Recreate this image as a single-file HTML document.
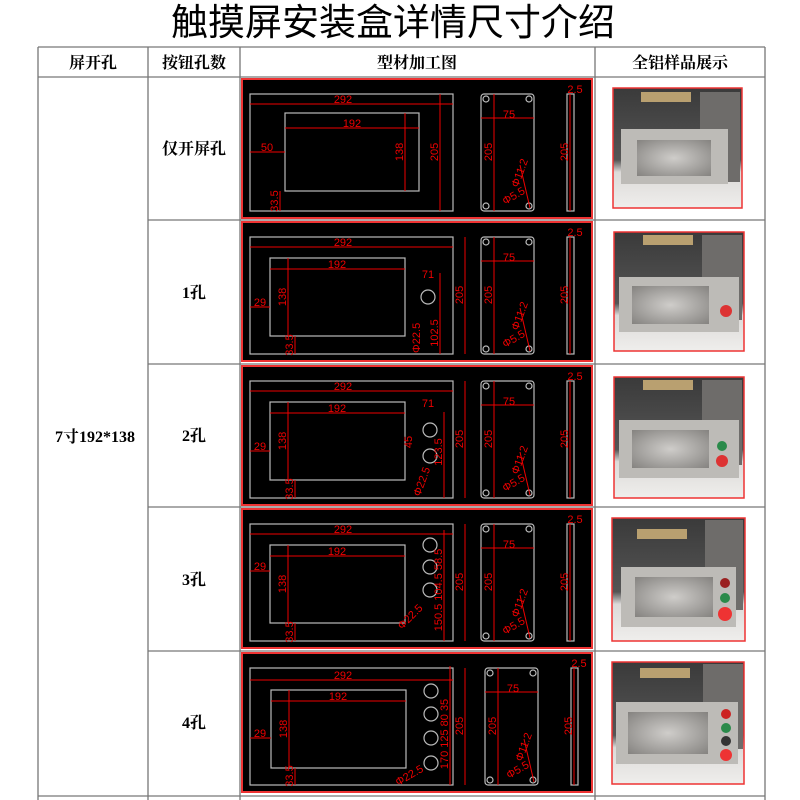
<!DOCTYPE html>
<html><head><meta charset="utf-8"><style>
html,body{margin:0;padding:0;background:#fff;width:800px;height:800px;overflow:hidden}
svg{display:block}
.t{font-family:"Liberation Sans","Noto Sans CJK SC",sans-serif}
.h{font-family:"Liberation Serif","Noto Serif CJK SC",serif;font-weight:bold}
.d{font-family:"Liberation Sans",sans-serif;fill:#e00;font-size:11px}
.g{fill:none;stroke:#bbb;stroke-width:1.2}
.r{stroke:#e00;stroke-width:1;fill:none}
</style></head><body>
<svg width="800" height="800" viewBox="0 0 800 800" xmlns="http://www.w3.org/2000/svg">
<defs>
<linearGradient id="bg" x1="0" y1="0" x2="0" y2="1"><stop offset="0" stop-color="#3a3a3a"/><stop offset="0.6" stop-color="#555"/><stop offset="0.7" stop-color="#dcdad8"/><stop offset="1" stop-color="#efeeec"/></linearGradient>
<radialGradient id="hole" cx="0.5" cy="0.5" r="0.7"><stop offset="0" stop-color="#cfcdca"/><stop offset="1" stop-color="#858380"/></radialGradient>
</defs>
<text x="393" y="35" text-anchor="middle" class="t" font-size="37" fill="#000">触摸屏安装盒详情尺寸介绍</text>
<g stroke="#777" stroke-width="1.3" fill="none">
<line x1="38" y1="47" x2="765" y2="47"/>
<line x1="38" y1="77" x2="765" y2="77"/>
<line x1="148" y1="220" x2="765" y2="220"/>
<line x1="148" y1="364" x2="765" y2="364"/>
<line x1="148" y1="507" x2="765" y2="507"/>
<line x1="148" y1="651" x2="765" y2="651"/>
<line x1="38" y1="796" x2="765" y2="796"/>
<line x1="38" y1="47" x2="38" y2="800"/>
<line x1="148" y1="47" x2="148" y2="800"/>
<line x1="240" y1="47" x2="240" y2="800"/>
<line x1="595" y1="47" x2="595" y2="800"/>
<line x1="765" y1="47" x2="765" y2="800"/>
</g>
<g class="h" font-size="16" text-anchor="middle" fill="#000">
<text x="93" y="68">屏开孔</text><text x="194" y="68">按钮孔数</text><text x="417" y="68">型材加工图</text><text x="680" y="68">全铝样品展示</text>
<text x="95" y="442">7寸192*138</text>
<text x="194" y="154">仅开屏孔</text><text x="194" y="298">1孔</text><text x="194" y="441">2孔</text><text x="194" y="585">3孔</text><text x="194" y="728">4孔</text>
</g>

<g>
<g transform="translate(0,0)">
<rect x="242" y="79" width="350" height="139" fill="#000" stroke="#e33" stroke-width="2"/>
<rect x="250" y="94" width="203" height="117" class="g"/>
<rect x="481" y="94" width="53" height="117" rx="3" class="g"/>
<circle cx="486" cy="99" r="3" class="g"/><circle cx="529" cy="99" r="3" class="g"/><circle cx="486" cy="206" r="3" class="g"/><circle cx="529" cy="206" r="3" class="g"/>
<rect x="567" y="94" width="7" height="117" class="g"/>
<line x1="250" y1="104" x2="453" y2="104" class="r"/><line x1="440" y1="94" x2="440" y2="211" class="r"/>
<line x1="481" y1="118" x2="534" y2="118" class="r"/><line x1="494" y1="94" x2="494" y2="211" class="r"/><line x1="570" y1="94" x2="570" y2="211" class="r"/>
<line x1="520" y1="165" x2="530" y2="208" class="r"/>
<text x="343" y="103" class="d" text-anchor="middle">292</text>
<text x="509" y="118" class="d" text-anchor="middle">75</text>
<text x="575" y="93" class="d" text-anchor="middle">2.5</text>
<text transform="translate(438,152) rotate(-90)" class="d" text-anchor="middle">205</text>
<text transform="translate(492,152) rotate(-90)" class="d" text-anchor="middle">205</text>
<text transform="translate(568,152) rotate(-90)" class="d" text-anchor="middle">205</text>
<text transform="translate(518,188) rotate(-70)" class="d" font-size="9">Φ11.2</text>
<text transform="translate(505,205) rotate(-30)" class="d" font-size="9">Φ5.5</text>
<rect x="285" y="113" width="134" height="78" class="g"/>
<line x1="285" y1="128" x2="419" y2="128" class="r"/><line x1="405" y1="113" x2="405" y2="191" class="r"/>
<line x1="250" y1="152" x2="285" y2="152" class="r"/><line x1="280" y1="191" x2="280" y2="211" class="r"/>
<text x="352" y="127" class="d" text-anchor="middle">192</text>
<text x="267" y="151" class="d" text-anchor="middle">50</text>
<text transform="translate(403,152) rotate(-90)" class="d" text-anchor="middle">138</text>
<text transform="translate(278,201) rotate(-90)" class="d" text-anchor="middle" font-size="10">33.5</text>
</g>

<g transform="translate(0,143)">
<rect x="242" y="79" width="350" height="139" fill="#000" stroke="#e33" stroke-width="2"/>
<rect x="250" y="94" width="203" height="117" class="g"/>
<rect x="481" y="94" width="53" height="117" rx="3" class="g"/>
<circle cx="486" cy="99" r="3" class="g"/><circle cx="529" cy="99" r="3" class="g"/><circle cx="486" cy="206" r="3" class="g"/><circle cx="529" cy="206" r="3" class="g"/>
<rect x="567" y="94" width="7" height="117" class="g"/>
<line x1="250" y1="104" x2="453" y2="104" class="r"/><line x1="465" y1="94" x2="465" y2="211" class="r"/>
<line x1="481" y1="118" x2="534" y2="118" class="r"/><line x1="494" y1="94" x2="494" y2="211" class="r"/><line x1="570" y1="94" x2="570" y2="211" class="r"/>
<line x1="520" y1="165" x2="530" y2="208" class="r"/>
<text x="343" y="103" class="d" text-anchor="middle">292</text>
<text x="509" y="118" class="d" text-anchor="middle">75</text>
<text x="575" y="93" class="d" text-anchor="middle">2.5</text>
<text transform="translate(463,152) rotate(-90)" class="d" text-anchor="middle">205</text>
<text transform="translate(492,152) rotate(-90)" class="d" text-anchor="middle">205</text>
<text transform="translate(568,152) rotate(-90)" class="d" text-anchor="middle">205</text>
<text transform="translate(518,188) rotate(-70)" class="d" font-size="9">Φ11.2</text>
<text transform="translate(505,205) rotate(-30)" class="d" font-size="9">Φ5.5</text>
<rect x="270" y="115" width="135" height="78" class="g"/>
<line x1="270" y1="126" x2="405" y2="126" class="r"/><line x1="288" y1="115" x2="288" y2="193" class="r"/>
<line x1="250" y1="164" x2="270" y2="164" class="r"/><line x1="295" y1="193" x2="295" y2="211" class="r"/>
<text x="337" y="125" class="d" text-anchor="middle">192</text>
<text x="260" y="163" class="d" text-anchor="middle">29</text>
<text transform="translate(286,154) rotate(-90)" class="d" text-anchor="middle">138</text>
<text transform="translate(293,202) rotate(-90)" class="d" text-anchor="middle" font-size="10">33.5</text>
<text x="428" y="135" class="d" text-anchor="middle">71</text>
<circle cx="428" cy="154" r="7" class="g"/>
<line x1="440" y1="130" x2="440" y2="211" class="r"/>
<text transform="translate(438,190) rotate(-90)" class="d" text-anchor="middle" font-size="10">102.5</text>
<text transform="translate(420,210) rotate(-90)" class="d" font-size="10">Φ22.5</text>
</g>

<g transform="translate(0,287)">
<rect x="242" y="79" width="350" height="139" fill="#000" stroke="#e33" stroke-width="2"/>
<rect x="250" y="94" width="203" height="117" class="g"/>
<rect x="481" y="94" width="53" height="117" rx="3" class="g"/>
<circle cx="486" cy="99" r="3" class="g"/><circle cx="529" cy="99" r="3" class="g"/><circle cx="486" cy="206" r="3" class="g"/><circle cx="529" cy="206" r="3" class="g"/>
<rect x="567" y="94" width="7" height="117" class="g"/>
<line x1="250" y1="104" x2="453" y2="104" class="r"/><line x1="465" y1="94" x2="465" y2="211" class="r"/>
<line x1="481" y1="118" x2="534" y2="118" class="r"/><line x1="494" y1="94" x2="494" y2="211" class="r"/><line x1="570" y1="94" x2="570" y2="211" class="r"/>
<line x1="520" y1="165" x2="530" y2="208" class="r"/>
<text x="343" y="103" class="d" text-anchor="middle">292</text>
<text x="509" y="118" class="d" text-anchor="middle">75</text>
<text x="575" y="93" class="d" text-anchor="middle">2.5</text>
<text transform="translate(463,152) rotate(-90)" class="d" text-anchor="middle">205</text>
<text transform="translate(492,152) rotate(-90)" class="d" text-anchor="middle">205</text>
<text transform="translate(568,152) rotate(-90)" class="d" text-anchor="middle">205</text>
<text transform="translate(518,188) rotate(-70)" class="d" font-size="9">Φ11.2</text>
<text transform="translate(505,205) rotate(-30)" class="d" font-size="9">Φ5.5</text>
<rect x="270" y="115" width="135" height="78" class="g"/>
<line x1="270" y1="126" x2="405" y2="126" class="r"/><line x1="288" y1="115" x2="288" y2="193" class="r"/>
<line x1="250" y1="164" x2="270" y2="164" class="r"/><line x1="295" y1="193" x2="295" y2="211" class="r"/>
<text x="337" y="125" class="d" text-anchor="middle">192</text>
<text x="260" y="163" class="d" text-anchor="middle">29</text>
<text transform="translate(286,154) rotate(-90)" class="d" text-anchor="middle">138</text>
<text transform="translate(293,202) rotate(-90)" class="d" text-anchor="middle" font-size="10">33.5</text>
<text x="428" y="120" class="d" text-anchor="middle">71</text>
<circle cx="430" cy="143" r="7" class="g"/><circle cx="430" cy="169" r="7" class="g"/>
<line x1="444" y1="125" x2="444" y2="211" class="r"/>
<text transform="translate(442,165) rotate(-90)" class="d" text-anchor="middle" font-size="10">123.5</text>
<text transform="translate(412,155) rotate(-90)" class="d" text-anchor="middle" font-size="10">45</text>
<text transform="translate(420,210) rotate(-70)" class="d" font-size="10">Φ22.5</text>
</g>

<g transform="translate(0,430)">
<rect x="242" y="79" width="350" height="139" fill="#000" stroke="#e33" stroke-width="2"/>
<rect x="250" y="94" width="203" height="117" class="g"/>
<rect x="481" y="94" width="53" height="117" rx="3" class="g"/>
<circle cx="486" cy="99" r="3" class="g"/><circle cx="529" cy="99" r="3" class="g"/><circle cx="486" cy="206" r="3" class="g"/><circle cx="529" cy="206" r="3" class="g"/>
<rect x="567" y="94" width="7" height="117" class="g"/>
<line x1="250" y1="104" x2="453" y2="104" class="r"/><line x1="465" y1="94" x2="465" y2="211" class="r"/>
<line x1="481" y1="118" x2="534" y2="118" class="r"/><line x1="494" y1="94" x2="494" y2="211" class="r"/><line x1="570" y1="94" x2="570" y2="211" class="r"/>
<line x1="520" y1="165" x2="530" y2="208" class="r"/>
<text x="343" y="103" class="d" text-anchor="middle">292</text>
<text x="509" y="118" class="d" text-anchor="middle">75</text>
<text x="575" y="93" class="d" text-anchor="middle">2.5</text>
<text transform="translate(463,152) rotate(-90)" class="d" text-anchor="middle">205</text>
<text transform="translate(492,152) rotate(-90)" class="d" text-anchor="middle">205</text>
<text transform="translate(568,152) rotate(-90)" class="d" text-anchor="middle">205</text>
<text transform="translate(518,188) rotate(-70)" class="d" font-size="9">Φ11.2</text>
<text transform="translate(505,205) rotate(-30)" class="d" font-size="9">Φ5.5</text>
<rect x="270" y="115" width="135" height="78" class="g"/>
<line x1="270" y1="126" x2="405" y2="126" class="r"/><line x1="288" y1="115" x2="288" y2="193" class="r"/>
<line x1="250" y1="141" x2="270" y2="141" class="r"/><line x1="295" y1="193" x2="295" y2="211" class="r"/>
<text x="337" y="125" class="d" text-anchor="middle">192</text>
<text x="260" y="140" class="d" text-anchor="middle">29</text>
<text transform="translate(286,154) rotate(-90)" class="d" text-anchor="middle">138</text>
<text transform="translate(293,202) rotate(-90)" class="d" text-anchor="middle" font-size="10">33.5</text>
<circle cx="430" cy="115" r="7" class="g"/><circle cx="430" cy="137" r="7" class="g"/><circle cx="430" cy="160" r="7" class="g"/>
<line x1="444" y1="100" x2="444" y2="211" class="r"/>
<text transform="translate(442,160) rotate(-90)" class="d" text-anchor="middle" font-size="10">150.5 104.5 58.5</text>
<text transform="translate(402,200) rotate(-45)" class="d" font-size="10">Φ22.5</text>
</g>

<g transform="translate(0,574)">
<rect x="242" y="79" width="350" height="139" fill="#000" stroke="#e33" stroke-width="2"/>
<rect x="250" y="94" width="203" height="117" class="g"/>
<rect x="485" y="94" width="53" height="117" rx="3" class="g"/>
<circle cx="490" cy="99" r="3" class="g"/><circle cx="533" cy="99" r="3" class="g"/><circle cx="490" cy="206" r="3" class="g"/><circle cx="533" cy="206" r="3" class="g"/>
<rect x="571" y="94" width="7" height="117" class="g"/>
<line x1="250" y1="106" x2="453" y2="106" class="r"/><line x1="465" y1="94" x2="465" y2="211" class="r"/>
<line x1="485" y1="118" x2="538" y2="118" class="r"/><line x1="498" y1="94" x2="498" y2="211" class="r"/><line x1="574" y1="94" x2="574" y2="211" class="r"/>
<line x1="524" y1="165" x2="534" y2="208" class="r"/>
<text x="343" y="105" class="d" text-anchor="middle">292</text>
<text x="513" y="118" class="d" text-anchor="middle">75</text>
<text x="579" y="93" class="d" text-anchor="middle">2.5</text>
<text transform="translate(463,152) rotate(-90)" class="d" text-anchor="middle">205</text>
<text transform="translate(496,152) rotate(-90)" class="d" text-anchor="middle">205</text>
<text transform="translate(572,152) rotate(-90)" class="d" text-anchor="middle">205</text>
<text transform="translate(522,188) rotate(-70)" class="d" font-size="9">Φ11.2</text>
<text transform="translate(509,205) rotate(-30)" class="d" font-size="9">Φ5.5</text>
<rect x="271" y="116" width="135" height="78" class="g"/>
<line x1="271" y1="127" x2="406" y2="127" class="r"/><line x1="289" y1="116" x2="289" y2="194" class="r"/>
<line x1="250" y1="164" x2="271" y2="164" class="r"/><line x1="295" y1="194" x2="295" y2="211" class="r"/>
<text x="338" y="126" class="d" text-anchor="middle">192</text>
<text x="260" y="163" class="d" text-anchor="middle">29</text>
<text transform="translate(287,155) rotate(-90)" class="d" text-anchor="middle">138</text>
<text transform="translate(293,202) rotate(-90)" class="d" text-anchor="middle" font-size="10">33.5</text>
<circle cx="431" cy="117" r="7" class="g"/><circle cx="431" cy="140" r="7" class="g"/><circle cx="431" cy="164" r="7" class="g"/><circle cx="431" cy="189" r="7" class="g"/>
<line x1="450" y1="92" x2="450" y2="211" class="r"/>
<text transform="translate(448,160) rotate(-90)" class="d" text-anchor="middle" font-size="10">170 125 80 35</text>
<text transform="translate(398,212) rotate(-30)" class="d" font-size="10">Φ22.5</text>
</g>
</g>

<g>
<rect x="613" y="88" width="129" height="120" fill="url(#bg)" stroke="#e33" stroke-width="1.5"/>
<rect x="641" y="92" width="50" height="10" fill="#b9a070"/><rect x="700" y="92" width="40" height="90" fill="#6e6c6a"/>
<rect x="621" y="129" width="107" height="55" fill="#bdbbb7"/><rect x="637" y="140" width="74" height="36" fill="url(#hole)"/>

<rect x="614" y="232" width="130" height="119" fill="url(#bg)" stroke="#e33" stroke-width="1.5"/>
<rect x="643" y="235" width="50" height="10" fill="#b9a070"/><rect x="702" y="235" width="40" height="85" fill="#6e6c6a"/>
<rect x="619" y="277" width="120" height="55" fill="#bdbbb7"/><rect x="632" y="286" width="77" height="38" fill="url(#hole)"/>
<circle cx="726" cy="311" r="6" fill="#d33"/>

<rect x="614" y="377" width="130" height="121" fill="url(#bg)" stroke="#e33" stroke-width="1.5"/>
<rect x="643" y="380" width="50" height="10" fill="#b9a070"/><rect x="702" y="380" width="40" height="85" fill="#6e6c6a"/>
<rect x="619" y="420" width="120" height="58" fill="#bdbbb7"/><rect x="632" y="430" width="77" height="38" fill="url(#hole)"/>
<circle cx="722" cy="446" r="5" fill="#2a8a4a"/><circle cx="722" cy="461" r="6" fill="#d33"/>

<rect x="612" y="518" width="133" height="123" fill="url(#bg)" stroke="#e33" stroke-width="1.5"/>
<rect x="637" y="529" width="50" height="10" fill="#b9a070"/><rect x="705" y="520" width="38" height="90" fill="#6e6c6a"/>
<rect x="621" y="567" width="115" height="60" fill="#bdbbb7"/><rect x="635" y="577" width="78" height="40" fill="url(#hole)"/>
<circle cx="725" cy="583" r="5" fill="#9a2020"/><circle cx="725" cy="598" r="5" fill="#2a8a4a"/><circle cx="725" cy="614" r="7" fill="#e33"/>

<rect x="612" y="662" width="132" height="122" fill="url(#bg)" stroke="#e33" stroke-width="1.5"/>
<rect x="640" y="668" width="50" height="10" fill="#b9a070"/><rect x="703" y="664" width="40" height="85" fill="#6e6c6a"/>
<rect x="616" y="702" width="122" height="62" fill="#bdbbb7"/><rect x="628" y="712" width="80" height="42" fill="url(#hole)"/>
<circle cx="726" cy="714" r="5" fill="#c22"/><circle cx="726" cy="728" r="5" fill="#2a8a4a"/><circle cx="726" cy="741" r="5" fill="#333"/><circle cx="726" cy="755" r="6" fill="#e33"/>
</g>
</svg>
</body></html>
